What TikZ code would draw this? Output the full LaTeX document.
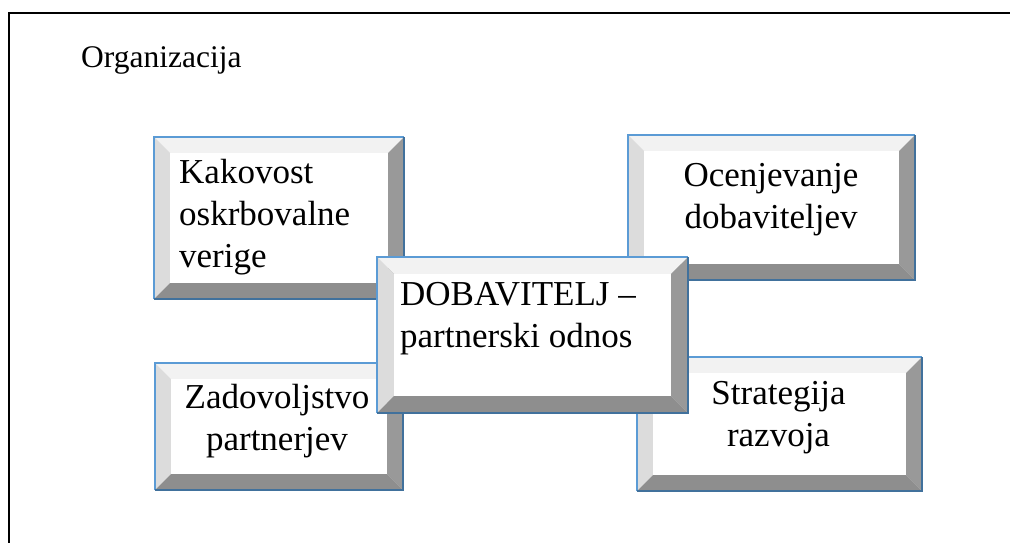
\documentclass[tikz,border=0pt]{standalone}
\usepackage{fontspec}
\setmainfont{Liberation Serif}
\definecolor{bevT}{HTML}{F2F2F2}
\definecolor{bevL}{HTML}{DCDCDC}
\definecolor{bevR}{HTML}{999999}
\definecolor{bevB}{HTML}{8E8E8E}
\definecolor{edgeL}{HTML}{5B9BD5}
\definecolor{edgeD}{HTML}{41719C}
\newcommand\bevbox[6]{%
 \fill[bevT] (#2,#3) -- (#4,#3) -- (#4-#6,#3+#6) -- (#2+#6,#3+#6) -- cycle;
 \fill[bevL] (#2,#3) -- (#2+#6,#3+#6) -- (#2+#6,#5-#6) -- (#2,#5) -- cycle;
 \fill[bevR] (#4,#3) -- (#4,#5) -- (#4-#6,#5-#6) -- (#4-#6,#3+#6) -- cycle;
 \fill[bevB] (#2,#5) -- (#4,#5) -- (#4-#6,#5-#6) -- (#2+#6,#5-#6) -- cycle;
 \fill[white] (#2+#6,#3+#6) rectangle (#4-#6,#5-#6);
 \draw[edgeL, line width=1.6pt] (#2,#5) -- (#2,#3) -- (#4,#3);
 \draw[edgeD, line width=1.6pt] (#4,#3) -- (#4,#5) -- (#2,#5);
 \coordinate (#1) at ({(#2+#4)/2},{(#3+#5)/2});
}
\tikzset{
 boxtext/.style={inner sep=0pt, font=\fontsize{35}{42}\selectfont},
 titletext/.style={inner sep=0pt, font=\fontsize{31.5}{38}\selectfont},
}
\begin{document}
\begin{tikzpicture}[x=1pt,y=-1pt]
\useasboundingbox (0,0) rectangle (1010,543);
\clip (0,0) rectangle (1010,543);
\fill[white] (0,0) rectangle (1010,543);
\draw[black, line width=2pt] (9,13) rectangle (1030,560);
\node[titletext, anchor=base west] (org) at (81,67) {Organizacija};
\bevbox{b1}{154}{137}{404}{299}{16}
\node[boxtext, anchor=base west, align=left] (t1) at (179,267) {Kakovost\\oskrbovalne\\verige};
\bevbox{b2}{628}{135}{915}{280}{16}
\node[boxtext, anchor=base, align=center] (t2) at (771,228) {Ocenjevanje\\dobaviteljev};
\bevbox{b4}{155}{363}{403}{490}{16}
\node[boxtext, anchor=base, align=center] (t4) at (277,450) {Zadovoljstvo\\partnerjev};
\bevbox{b5}{637}{357}{922}{491}{16}
\node[boxtext, anchor=base, align=center] (t5) at (778.5,446) {Strategija\\razvoja};
\bevbox{bc}{377}{257}{688}{413}{17}
\node[boxtext, anchor=base west, align=left] (tc) at (400,347) {DOBAVITELJ –\\partnerski odnos};
\end{tikzpicture}
\end{document}
